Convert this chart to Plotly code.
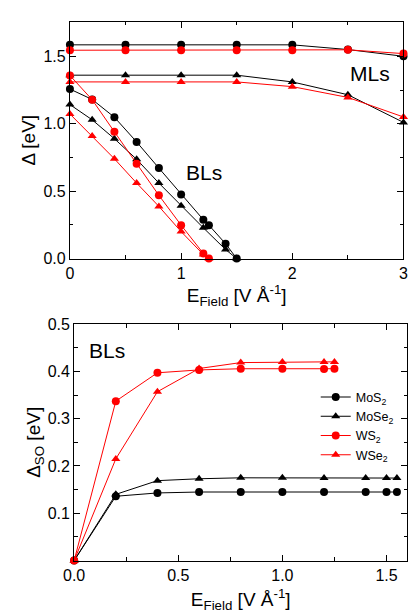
import plotly.graph_objects as go

# ---------------- Top panel data (band gap Delta vs field) ----------------
ml_x = [0, 0.5, 1.0, 1.5, 2.0, 2.5, 3.0]
ml_mos2 = [1.585, 1.585, 1.585, 1.585, 1.585, 1.55, 1.50]
ml_ws2 = [1.545, 1.545, 1.545, 1.545, 1.545, 1.548, 1.52]
ml_mose2 = [1.36, 1.36, 1.36, 1.36, 1.31, 1.215, 1.01]
ml_wse2 = [1.31, 1.31, 1.31, 1.31, 1.275, 1.195, 1.05]

bl_mos2_x = [0, 0.2, 0.4, 0.6, 0.8, 1.0, 1.2, 1.25, 1.4, 1.5]
bl_mos2 = [1.257, 1.18, 1.048, 0.865, 0.671, 0.476, 0.288, 0.248, 0.11, 0.0]
bl_mose2_x = [0, 0.2, 0.4, 0.6, 0.8, 1.0, 1.2, 1.4, 1.5]
bl_mose2 = [1.142, 1.029, 0.889, 0.736, 0.56, 0.392, 0.228, 0.067, 0.0]
bl_ws2_x = [0, 0.2, 0.4, 0.6, 0.8, 1.0, 1.2, 1.25]
bl_ws2 = [1.358, 1.178, 0.94, 0.704, 0.469, 0.248, 0.038, 0.0]
bl_wse2_x = [0, 0.2, 0.4, 0.6, 0.8, 1.0, 1.2, 1.25]
bl_wse2 = [1.072, 0.909, 0.74, 0.56, 0.387, 0.20, 0.03, 0.0]

# ---------------- Bottom panel data (spin-orbit splitting) ----------------
so_mo_x = [0, 0.2, 0.4, 0.6, 0.8, 1.0, 1.2, 1.4, 1.5, 1.55]
so_mos2 = [0.0, 0.136, 0.143, 0.145, 0.145, 0.145, 0.145, 0.145, 0.145, 0.145]
so_mose2 = [0.0, 0.14, 0.169, 0.173, 0.175, 0.175, 0.1745, 0.1745, 0.1745, 0.1745]
so_w_x = [0, 0.2, 0.4, 0.6, 0.8, 1.0, 1.2, 1.25]
so_ws2 = [0.0, 0.337, 0.397, 0.403, 0.4055, 0.4055, 0.405, 0.4055]
so_wse2 = [0.0, 0.215, 0.357, 0.406, 0.4185, 0.42, 0.42, 0.42]

BLACK = "#000000"
RED = "#ff0000"
FONT = "Liberation Sans, Arial, sans-serif"

fig = go.Figure()


def add(x, y, color, symbol, name=None, xa="x", ya="y", legend=False, size=8):
    fig.add_trace(go.Scatter(
        x=x, y=y, mode="lines+markers", name=name, showlegend=legend,
        line=dict(color=color, width=1),
        marker=dict(color=color, symbol=symbol, size=size),
        xaxis=xa, yaxis=ya, cliponaxis=False,
    ))


# top panel: monolayers
add(ml_x, ml_mos2, BLACK, "circle")
add(ml_x, ml_ws2, RED, "circle")
add(ml_x, ml_mose2, BLACK, "triangle-up")
add(ml_x, ml_wse2, RED, "triangle-up")
# top panel: bilayers
add(bl_mos2_x, bl_mos2, BLACK, "circle")
add(bl_mose2_x, bl_mose2, BLACK, "triangle-up")
add(bl_wse2_x, bl_wse2, RED, "triangle-up")
add(bl_ws2_x, bl_ws2, RED, "circle")

# bottom panel
add(so_mo_x, so_mos2, BLACK, "circle", "MoS<sub>2</sub>", "x2", "y2", True)
add(so_mo_x, so_mose2, BLACK, "triangle-up", "MoSe<sub>2</sub>", "x2", "y2", True)
add(so_w_x, so_ws2, RED, "circle", "WS<sub>2</sub>", "x2", "y2", True)
add(so_w_x, so_wse2, RED, "triangle-up", "WSe<sub>2</sub>", "x2", "y2", True)

W, H = 413, 616


def axis_common():
    return dict(
        showline=True, linecolor="black", linewidth=1, mirror="allticks",
        ticks="inside", ticklen=6, tickcolor="black", tickwidth=1,
        showgrid=False, zeroline=False,
        tickfont=dict(family=FONT, size=16, color="black"),
    )


title_font = dict(family=FONT, size=19, color="black")
minor_style = dict(ticks="inside", ticklen=3.5, tickcolor="black")

fig.update_layout(
    width=W, height=H,
    margin=dict(l=0, r=0, t=0, b=0),
    paper_bgcolor="white", plot_bgcolor="white",
    font=dict(family=FONT, color="black"),
    xaxis=dict(**axis_common(), domain=[61.3 / W, 408.3 / W], anchor="y",
               range=[0, 3], dtick=1, tick0=0,
               minor=dict(**minor_style, dtick=0.5),
               title=dict(text="E<sub>Field</sub> [V Å<sup>-1</sup>]", font=title_font, standoff=7)),
    yaxis=dict(**axis_common(), domain=[1 - 257.7 / H, 1 - 14.3 / H], anchor="x",
               range=[0, 1.755], dtick=0.5, tick0=0, tickformat=".1f",
               minor=dict(**minor_style, dtick=0.25),
               title=dict(text="Δ [eV]", font=title_font, standoff=2)),
    xaxis2=dict(**axis_common(), domain=[65.7 / W, 412.3 / W], anchor="y2",
                range=[0, 1.6], dtick=0.5, tick0=0, tickformat=".1f",
                minor=dict(**minor_style, dtick=0.25),
                title=dict(text="E<sub>Field</sub> [V Å<sup>-1</sup>]", font=title_font, standoff=9)),
    yaxis2=dict(**axis_common(), domain=[1 - 568.3 / H, 1 - 325 / H], anchor="x2",
                range=[0, 0.5], tickvals=[0.1, 0.2, 0.3, 0.4, 0.5], tickformat=".1f",
                minor=dict(**minor_style, dtick=0.05),
                title=dict(text="Δ<sub>SO</sub> [eV]", font=title_font, standoff=2)),
    legend=dict(x=317 / W, y=1 - 385 / H, xanchor="left", yanchor="top",
                bgcolor="rgba(0,0,0,0)", font=dict(family=FONT, size=12.5, color="black"),
                tracegroupgap=0, itemwidth=30),
    annotations=[
        dict(text="MLs", x=2.695, y=1.37, xref="x", yref="y", showarrow=False,
             font=dict(family=FONT, size=21, color="black")),
        dict(text="BLs", x=1.208, y=0.64, xref="x", yref="y", showarrow=False,
             font=dict(family=FONT, size=21, color="black")),
        dict(text="BLs", x=0.16, y=0.445, xref="x2", yref="y2", showarrow=False,
             font=dict(family=FONT, size=21, color="black")),
    ],
)

fig.write_html("out.html")
